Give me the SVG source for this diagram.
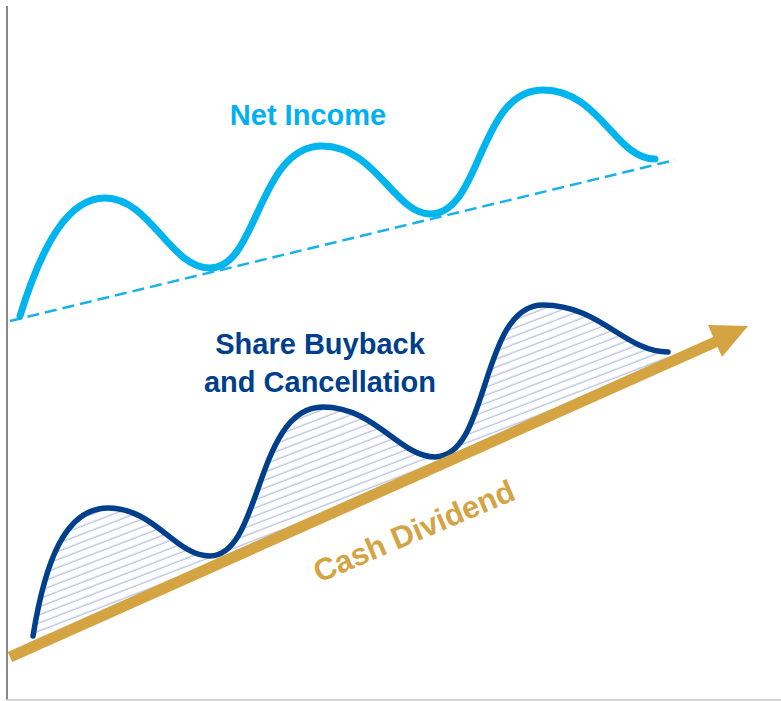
<svg xmlns="http://www.w3.org/2000/svg" width="781" height="701" viewBox="0 0 781 701">
<defs>
<style>
.lbl{font-family:"Liberation Sans",Arial,sans-serif;font-weight:bold;font-size:29px;text-anchor:middle}
</style>
<pattern id="hatch" patternUnits="userSpaceOnUse" width="20" height="7.5" patternTransform="rotate(-21)">
<line x1="0" y1="3" x2="20" y2="3" stroke="#9FB0D8" stroke-width="1"/>
</pattern>
</defs>
<rect width="781" height="701" fill="#fff"/>
<g id="axes">
<line x1="7" y1="6" x2="7" y2="700" stroke="#8A8A8A" stroke-width="2"/>
<line x1="7" y1="700" x2="781" y2="700" stroke="#D4D4D4" stroke-width="2"/>
</g>
<g id="net-income">
<line x1="10" y1="321" x2="675" y2="160" stroke="#1AB0EA" stroke-width="2.5" stroke-dasharray="12,6"/>
<path d="M20,316 C42,245 68,198 105,198 C150,198 170,268 210,268 C258,268 258,146 322,146 C375,146 395,214 430,214 C482,214 478,90 543,90 C600,90 615,159 655,159" fill="none" stroke="#00B4EE" stroke-width="7" stroke-linecap="round"/>
<text class="lbl" x="308" y="125" fill="#00B0F0">Net Income</text>
</g>
<g id="share-buyback">
<path d="M33,636 C45,562 65,508 108,508 C155,508 175,556 210,556 C262,556 255,407 323,407 C375,407 400,457 435,457 C490,457 480,305 543,305 C600,305 625,352 668,352 L668,362 L33,646 Z" fill="url(#hatch)" stroke="none"/>
<path d="M33,636 C45,562 65,508 108,508 C155,508 175,556 210,556 C262,556 255,407 323,407 C375,407 400,457 435,457 C490,457 480,305 543,305 C600,305 625,352 668,352" fill="none" stroke="#003F8C" stroke-width="5.5" stroke-linecap="round"/>
<text class="lbl" x="320" y="354" fill="#003F8C">Share Buyback</text>
<text class="lbl" x="320" y="392" fill="#003F8C">and Cancellation</text>
</g>
<g id="cash-dividend">
<line x1="10" y1="657" x2="722" y2="339" stroke="#D4A443" stroke-width="11"/>
<polygon points="748,326 708,325 722,357" fill="#D4A443"/>
<text class="lbl" transform="translate(418,541) rotate(-23)" x="0" y="0" fill="#D4A443" style="font-size:31px">Cash Dividend</text>
</g>
</svg>
